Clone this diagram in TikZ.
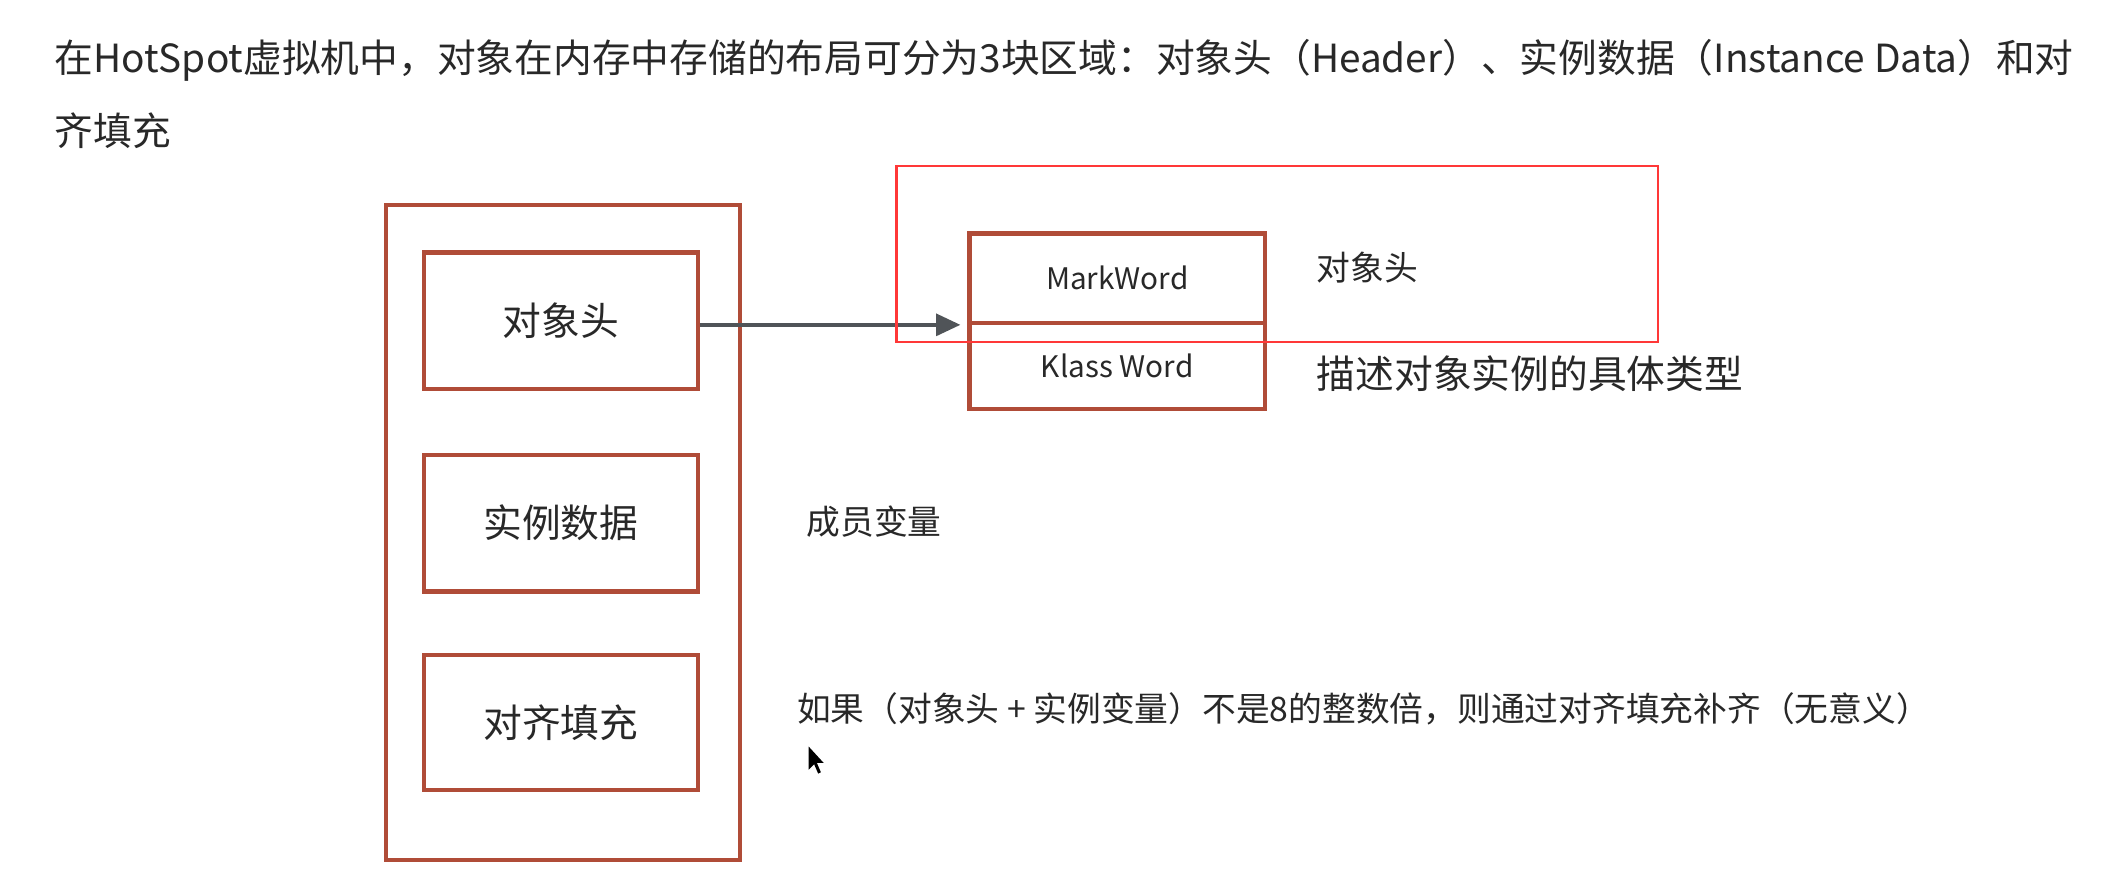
\documentclass[tikz,border=0pt]{standalone}
\usepackage{fontspec}
\setmainfont{Noto Sans CJK SC}
\usetikzlibrary{arrows.meta}
\definecolor{boxred}{RGB}{176,76,56}
\definecolor{hired}{RGB}{255,56,56}
\definecolor{txt}{RGB}{40,40,40}
\definecolor{arrowgray}{RGB}{80,84,88}
\begin{document}
\begin{tikzpicture}[x=0.5pt,y=-0.5pt,
  brbox/.style={draw=boxred,line width=1.6pt,inner sep=0pt,text=txt},
  lbl/.style={text=txt,inner sep=0pt,anchor=west},
  fbig/.style={font=\fontsize{14.35pt}{16pt}\selectfont},
  fmid/.style={font=\fontsize{12.5pt}{14pt}\selectfont},
  fsmall/.style={font=\fontsize{11pt}{13pt}\selectfont}]
\useasboundingbox (0,0) rectangle (1568,652.5);
% title
\node[lbl,fbig] (t1) at (40,45) {在HotSpot虚拟机中，对象在内存中存储的布局可分为3块区域：对象头（Header）、实例数据（Instance Data）和对};
\node[lbl,fbig] (t2) at (40,97) {齐填充};
% left object layout
\node[brbox,minimum width=131pt,minimum height=242.5pt] (outer) at (417,394.5) {};
\node[brbox,fbig,minimum width=101.5pt,minimum height=50.5pt] (hdr) at (415.5,237.5) {对象头};
\node[brbox,fbig,minimum width=101.5pt,minimum height=50.5pt] (inst) at (415.5,387.5) {实例数据};
\node[brbox,fbig,minimum width=101.5pt,minimum height=50pt] (pad) at (415.5,535) {对齐填充};
% header detail
\node[brbox,fsmall,minimum width=109.5pt,minimum height=33pt] (mw) at (827.5,206) {MarkWord};
\node[brbox,fsmall,minimum width=109.5pt,minimum height=32pt] (kw) at (827.5,271) {Klass Word};
\draw[arrowgray,line width=1.5pt,-{Triangle[length=9pt,width=8pt]}] (hdr.east |- mw.south) -- ([xshift=-2.5pt]mw.south west);
% highlight rectangle
\node[draw=hired,line width=0.8pt,inner sep=0pt,minimum width=282pt,minimum height=65pt] (hl) at (946,188) {};
% labels
\node[lbl,fmid] (l1) at (975,198) {对象头};
\node[lbl,fbig] (l2) at (975,277) {描述对象实例的具体类型};
\node[lbl,fmid] (l3) at (597,386) {成员变量};
\node[lbl,fmid] (l4) at (590,525) {如果（对象头 + 实例变量）不是8的整数倍，则通过对齐填充补齐（无意义）};
% mouse pointer
\fill[black] (599,553) -- (599,570) -- (603,566) -- (606,573) -- (608,572) -- (605,565) -- (610,565) -- cycle;
\end{tikzpicture}
\end{document}
